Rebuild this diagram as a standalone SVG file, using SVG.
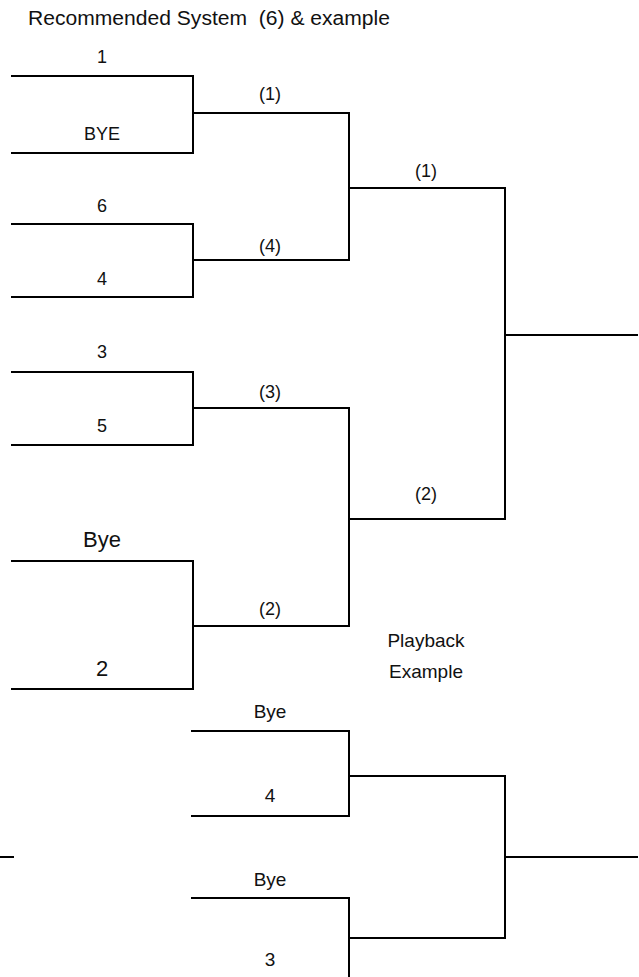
<svg xmlns="http://www.w3.org/2000/svg" width="639" height="977" viewBox="0 0 639 977">
<style>
.ln{fill:none;stroke:#000;stroke-width:2;stroke-linecap:square}
text{font-family:"Liberation Sans",Arial,sans-serif;fill:#111;text-anchor:middle}
.s{font-size:18px}
.m{font-size:19px}
.l{font-size:22px}
.t{font-size:20px;text-anchor:start}
</style>
<rect width="639" height="977" fill="#fff"/>
<text id="title" class="t" x="28" y="25" textLength="362" lengthAdjust="spacingAndGlyphs">Recommended System&#160; (6) &amp; example</text>
<g id="connectors" class="ln">
<path d="M12 76H193V153H12"/>
<path d="M193 113H349"/>
<path d="M12 224H193V297H12"/>
<path d="M193 260H349"/>
<path d="M349 113V260"/>
<path d="M349 188H505"/>
<path d="M12 372H193V445H12"/>
<path d="M193 408H349"/>
<path d="M12 561H193V689H12"/>
<path d="M193 626H349"/>
<path d="M349 408V626"/>
<path d="M349 519H505"/>
<path d="M505 188V519"/>
<path d="M505 335H637"/>
<path d="M192 731H349V816H192"/>
<path d="M349 776H505"/>
<path d="M192 898H349V978"/>
<path d="M349 938H505"/>
<path d="M505 776V938"/>
<path d="M505 857H637"/>
<path d="M0 857H13"/>
</g>
<g id="seed1"><text class="s" x="102" y="63">1</text></g>
<g id="seedBYE"><text class="s" x="102" y="140">BYE</text></g>
<g id="seed6"><text class="s" x="102" y="212">6</text></g>
<g id="seed4"><text class="s" x="102" y="285">4</text></g>
<g id="seed3"><text class="s" x="102" y="358">3</text></g>
<g id="seed5"><text class="s" x="102" y="432">5</text></g>
<g id="seedBye"><text class="l" x="102" y="547">Bye</text></g>
<g id="seed2"><text class="l" x="102" y="676">2</text></g>
<g id="w1"><text class="s" x="270" y="100">(1)</text></g>
<g id="w4"><text class="s" x="270" y="252">(4)</text></g>
<g id="w3"><text class="s" x="270" y="398">(3)</text></g>
<g id="w2"><text class="s" x="270" y="615">(2)</text></g>
<g id="sf1"><text class="s" x="426" y="177">(1)</text></g>
<g id="sf2"><text class="s" x="426" y="500">(2)</text></g>
<g id="playback"><text class="m" x="426" y="647">Playback</text><text class="m" x="426" y="678">Example</text></g>
<g id="pbBye1"><text class="m" x="270" y="718">Bye</text></g>
<g id="pb4"><text class="m" x="270" y="802">4</text></g>
<g id="pbBye2"><text class="m" x="270" y="886">Bye</text></g>
<g id="pb3"><text class="m" x="270" y="966">3</text></g>
</svg>
